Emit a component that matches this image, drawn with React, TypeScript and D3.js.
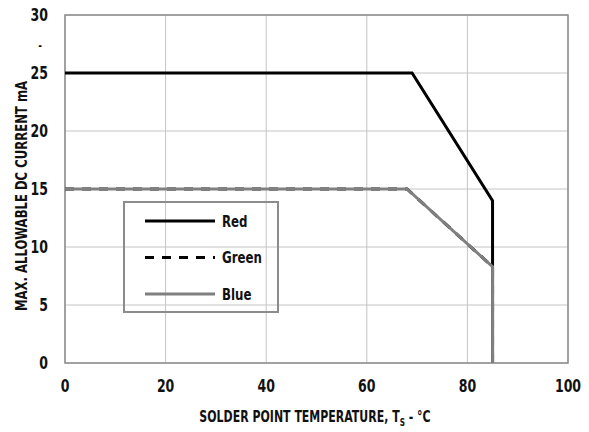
import React from 'react'
import * as d3 from 'd3'

const xTicks = [0, 20, 40, 60, 80, 100]
const yTicks = [0, 5, 10, 15, 20, 25, 30]

const redTemp = [0, 69, 85, 85]
const redCurrent = [25, 25, 14, 0]
const greenTemp = [0, 68, 85, 85]
const greenCurrent = [15, 15, 8.3, 0]
const blueTemp = [0, 68, 85, 85]
const blueCurrent = [15, 15, 8.3, 0]

const legendItems = [
  { label: 'Red', color: '#000', dash: '' },
  { label: 'Green', color: '#000', dash: '9,8' },
  { label: 'Blue', color: '#808080', dash: '' },
]

const FONT = "'DejaVu Sans Condensed', 'Liberation Sans Narrow', sans-serif"

// condensed bold text, squeezed horizontally
function CText({ x, y, anchor = 'start', size = 16, sx = 0.82, children }: any) {
  return (
    <g transform={`translate(${x},${y}) scale(${sx},1)`}>
      <text x={0} y={0} dy="0.35em" textAnchor={anchor} fontFamily={FONT} fontWeight="bold"
        fontSize={size} fill="#111">{children}</text>
    </g>
  )
}

export default function App() {
  const width = 589
  const height = 432
  const margin = { top: 15, right: 21, bottom: 69, left: 65 }
  const innerW = width - margin.left - margin.right
  const innerH = height - margin.top - margin.bottom

  const x = d3.scaleLinear().domain([0, 100]).range([0, innerW])
  const y = d3.scaleLinear().domain([0, 30]).range([innerH, 0])

  const line = d3.line<[number, number]>()
    .x(d => x(d[0]))
    .y(d => y(d[1]))

  const zip = (a: number[], b: number[]) => a.map((v, i) => [v, b[i]] as [number, number])

  // legend box in plot coordinates
  const lg = { x: 124 - margin.left, y: 202 - margin.top, w: 154, h: 110 }

  return (
    <div style={{ position: 'fixed', left: 0, top: 0 }}>
      <svg width={width} height={height} style={{ display: 'block', background: '#fff' }}>
        <g transform={`translate(${margin.left},${margin.top})`}>
          {/* grid */}
          {yTicks.map(t => (
            <line key={'gy' + t} x1={0} x2={innerW} y1={y(t)} y2={y(t)} stroke="#c4c4c4" strokeWidth={1} />
          ))}
          {xTicks.map(t => (
            <line key={'gx' + t} x1={x(t)} x2={x(t)} y1={0} y2={innerH} stroke="#c4c4c4" strokeWidth={1} />
          ))}
          <rect x={0} y={0} width={innerW} height={innerH} fill="none" stroke="#8c8c8c" strokeWidth={1.5} />

          {/* series */}
          <path d={line(zip(redTemp, redCurrent)) || ''} fill="none" stroke="#000" strokeWidth={3} />
          <path d={line(zip(greenTemp, greenCurrent)) || ''} fill="none" stroke="#000" strokeWidth={3} strokeDasharray="9,8" />
          <path d={line(zip(blueTemp, blueCurrent)) || ''} fill="none" stroke="#808080" strokeWidth={3} />

          {/* tick labels */}
          {yTicks.map(t => (
            <CText key={'ty' + t} x={-17} y={y(t)} anchor="end" size={17}>{t}</CText>
          ))}
          {xTicks.map(t => (
            <CText key={'tx' + t} x={x(t)} y={innerH + 23} anchor="middle" size={17}>{t}</CText>
          ))}

          {/* legend */}
          <rect x={lg.x} y={lg.y} width={lg.w} height={lg.h} fill="none" stroke="#8c8c8c" strokeWidth={2} />
          {legendItems.map((it, i) => {
            const ly = lg.y + 19 + i * 36.5
            return (
              <g key={it.label}>
                <line x1={lg.x + 21} x2={lg.x + 91} y1={ly} y2={ly} stroke={it.color} strokeWidth={3}
                  strokeDasharray={it.dash || undefined} />
                <CText x={lg.x + 98} y={ly} size={16}>{it.label}</CText>
              </g>
            )
          })}
        </g>

        <CText x={40} y={46} anchor="middle" size={12}>-</CText>

        {/* axis titles */}
        <g transform="translate(315,422) scale(0.74,1)">
          <text x={0} y={0} textAnchor="middle" fontFamily={FONT} fontWeight="bold" fontSize={16.5} fill="#111">
            SOLDER POINT TEMPERATURE, T<tspan fontSize={11} dy={4}>S</tspan><tspan dy={-4}> - °C</tspan>
          </text>
        </g>
        <g transform="translate(27,196) rotate(-90) scale(0.81,1)">
          <text x={0} y={0} textAnchor="middle" fontFamily={FONT} fontWeight="bold" fontSize={16}
            fill="#111">MAX. ALLOWABLE DC CURRENT mA</text>
        </g>
      </svg>
    </div>
  )
}
